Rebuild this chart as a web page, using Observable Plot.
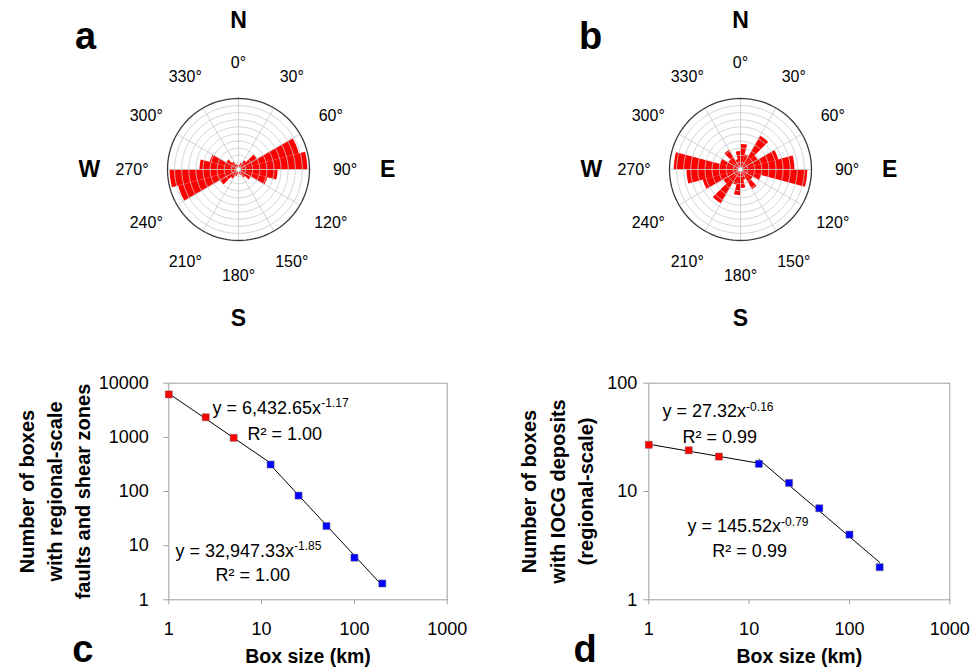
<!DOCTYPE html>
<html>
<head>
<meta charset="utf-8">
<script src="https://cdn.jsdelivr.net/npm/d3@7"></script>
<script src="https://cdn.jsdelivr.net/npm/@observablehq/plot@0.6"></script>
<style>
  body { margin: 0; background: #fff; }
  #fig { position: relative; width: 974px; height: 669px; overflow: hidden; background: #fff; }
  .panel { position: absolute; }
</style>
</head>
<body>
<div id="fig"></div>
<script>
// ---------- data ----------
// rose diagrams: 15° bins (axial data, mirrored through 180°), length in grid rings (10 rings = outer circle)
const binStart = [0, 15, 30, 45, 60, 75, 90, 105, 120, 135, 150, 165];
const faultRose = [0.7, 1.0, 1.5, 3.0, 8.8, 9.7, 5.5, 4.2, 2.0, 1.3, 0.8, 0.6];
const iocgRose  = [3.6, 2.2, 5.5, 2.8, 5.5, 7.6, 9.4, 3.0, 2.0, 3.2, 1.5, 2.6];
const ringCount = 10;
const degreeLabels = [0, 30, 60, 90, 120, 150, 180, 210, 240, 270, 300, 330];
const compassLetters = ["N", "E", "S", "W"];
const compassAngles = [0, 90, 180, 270];

// box-counting plots
const boxSize    = [1, 2.5, 5, 12.5, 25, 50, 100, 200];
const faultBoxes = [6200, 2350, 980, 315, 84, 23, 6, 2];
const iocgBoxes  = [27, 24, 21, 18, 12, 7, 4, 2];
const boxGroup   = ["small", "small", "small", "large", "large", "large", "large", "large"];
const xTicks = [1, 10, 100, 1000];
const faultYTicks = [1, 10, 100, 1000, 10000];
const iocgYTicks = [1, 10, 100];
const faultFits = [
  {a: 6432.65, b: -1.17, from: 1, to: 12.5, eq: "y = 6,432.65x^-1.17", r2: "R² = 1.00"},
  {a: 32947.33, b: -1.85, from: 12.5, to: 200, eq: "y = 32,947.33x^-1.85", r2: "R² = 1.00"}
];
const iocgFits = [
  {a: 27.32, b: -0.16, from: 1, to: 12.5, eq: "y = 27.32x^-0.16", r2: "R² = 0.99"},
  {a: 145.52, b: -0.79, from: 12.5, to: 200, eq: "y = 145.52x^-0.79", r2: "R² = 0.99"}
];
const faultTitle = "Number of boxes\nwith regional-scale\nfaults and shear zones";
const iocgTitle = "Number of boxes\nwith IOCG deposits\n(regional-scale)";
const xTitle = "Box size (km)";

// ---------- helpers ----------
const FONT = "'Liberation Sans', Arial, sans-serif";
const fig = document.getElementById("fig");
function place(node, left, top) {
  const d = document.createElement("div");
  d.className = "panel";
  d.style.left = left + "px";
  d.style.top = top + "px";
  d.appendChild(node);
  fig.appendChild(d);
}
function superscripts(svg) {
  svg.querySelectorAll("text").forEach(t => {
    if (t.children.length) return;
    const s = t.textContent;
    const i = s.indexOf("^");
    if (i < 0) return;
    t.textContent = s.slice(0, i);
    const sup = document.createElementNS("http://www.w3.org/2000/svg", "tspan");
    sup.setAttribute("font-size", "0.67em");
    sup.setAttribute("dy", "-0.55em");
    sup.textContent = s.slice(i + 1);
    t.appendChild(sup);
  });
  return svg;
}

// ---------- rose diagram ----------
const K = 7.1;          // px per ring
const RW = 440, RH = 340, RCY = 169;
const rad = Math.PI / 180;
const pt = (r, a) => ({x: r * Math.sin(a * rad), y: r * Math.cos(a * rad)});

function rose(values, letter, letterDx) {
  const r0 = 0.35;
  const petals = [];
  binStart.forEach((b, i) => {
    [0, 180].forEach(off => {
      const a0 = b + off, id = i + "-" + off, v = values[i];
      const pts = [pt(r0, a0)];
      for (let s = 0; s <= 6; s++) pts.push(pt(v, a0 + s * 2.5));
      pts.push(pt(r0, a0 + 15));
      pts.forEach(p => petals.push({...p, id}));
    });
  });
  const rings = [];
  for (let r = 1; r <= ringCount; r++)
    for (let a = 0; a <= 360; a += 3) rings.push({...pt(r, a), ring: r});
  const spokes = d3.range(0, 360, 30);
  return Plot.plot({
    width: RW, height: RH, margin: 0,
    x: {domain: [-RW / 2 / K, RW / 2 / K], axis: null},
    y: {domain: [-(RH - RCY) / K, RCY / K], axis: null},
    style: {fontFamily: FONT, background: "transparent", color: "#000"},
    marks: [
      Plot.line(petals, {x: "x", y: "y", z: "id", fill: "#ff0000", stroke: "none"}),
      Plot.line(rings.filter(d => d.ring < ringCount), {x: "x", y: "y", z: "ring", stroke: "#c9c9c9", strokeWidth: 0.8}),
      Plot.link(spokes, {
        x1: a => pt(r0, a).x, y1: a => pt(r0, a).y,
        x2: a => pt(ringCount, a).x, y2: a => pt(ringCount, a).y,
        stroke: "#c9c9c9", strokeWidth: 0.8
      }),
      Plot.line(rings.filter(d => d.ring === ringCount), {x: "x", y: "y", stroke: "#3a3a3a", strokeWidth: 1.3}),
      Plot.dot([{x: 0, y: 0}], {x: "x", y: "y", r: 2.4, fill: "white", stroke: "#b0b0b0", strokeWidth: 0.8}),
      Plot.text(degreeLabels, {
        x: d => pt(15, d).x, y: d => pt(15, d).y, text: d => d + "°",
        fontSize: 16, fill: "#000"
      }),
      Plot.text(compassLetters, {
        x: (d, i) => pt(21, compassAngles[i]).x, y: (d, i) => pt(21, compassAngles[i]).y,
        text: d => d, fontSize: 23, fontWeight: "bold", fill: "#000"
      }),
      Plot.text([letter], {
        frameAnchor: "top-left", dx: letterDx, dy: 48, text: d => d,
        textAnchor: "start", lineAnchor: "bottom", fontSize: 38, fontWeight: "bold", fill: "#000"
      })
    ]
  });
}

// ---------- log-log box-counting plot ----------
function loglog(o) {
  const pts = boxSize.map((x, i) => ({x, y: o.values[i], g: boxGroup[i]}));
  const trend = o.fits.flatMap((f, i) => [f.from, f.to].map(x => ({x, y: f.a * Math.pow(x, f.b), fit: i})));
  const ann = o.fits.flatMap((f, i) => [
    {text: f.eq, ...o.ann[i * 2]},
    {text: f.r2, ...o.ann[i * 2 + 1]}
  ]);
  const svg = Plot.plot({
    width: o.width, height: 309,
    marginLeft: o.marginLeft, marginRight: o.marginRight, marginTop: 22.7, marginBottom: 69.7,
    x: {type: "log", domain: [1, 1000]},
    y: {type: "log", domain: o.yDomain},
    style: {fontFamily: FONT, fontSize: "18px", background: "transparent", color: "#000"},
    marks: [
      Plot.frame({stroke: "#a0a0a0", strokeWidth: 1}),
      Plot.axisX(xTicks, {tickSize: 5, tickPadding: 17, tickFormat: d => String(d), stroke: "#a0a0a0", fill: "#000", fontSize: 18, label: null}),
      Plot.axisY(o.yTicks, {tickSize: 5, tickFormat: () => "", stroke: "#a0a0a0", label: null}),
      Plot.text(o.yTicks, {
        frameAnchor: "left", y: d => d, dx: o.yLabelDx, text: d => String(d),
        textAnchor: "end", fontSize: 18, fill: "#000"
      }),
      Plot.line(trend, {x: "x", y: "y", z: "fit", stroke: "#000", strokeWidth: 1}),
      Plot.dot(pts.filter(d => d.g === "small"), {x: "x", y: "y", symbol: "square", r: 4, fill: "#ff0000", stroke: "#6b6b6b", strokeWidth: 0.5}),
      Plot.dot(pts.filter(d => d.g === "large"), {x: "x", y: "y", symbol: "square", r: 4, fill: "#0000ff", stroke: "#6b6b6b", strokeWidth: 0.5}),
      Plot.text(ann, {x: "x", y: "y", text: "text", textAnchor: "start", lineAnchor: "bottom", fontSize: 18, fill: "#000"}),
      Plot.text([o.title], {
        frameAnchor: "left", dx: o.titleDx, rotate: -90, text: d => d,
        lineHeight: 1.42, fontSize: 20, fontWeight: "bold", textAnchor: "middle", lineAnchor: "middle", fill: "#000"
      }),
      Plot.text([xTitle], {
        frameAnchor: "bottom", dy: 62.7, text: d => d, lineAnchor: "bottom",
        fontSize: 19.5, fontWeight: "bold", fill: "#000"
      }),
      Plot.text([o.letter], {
        frameAnchor: "bottom-left", dx: o.letterDx, dy: 62.5, text: d => d,
        textAnchor: "start", lineAnchor: "bottom", fontSize: 38, fontWeight: "bold", fill: "#000"
      })
    ]
  });
  return superscripts(svg);
}

// ---------- assemble ----------
place(rose(faultRose, "a", 56.5), 237.5 - RW / 2, 0);
place(rose(iocgRose, "b", 58.5), 739.5 - RW / 2, 0);

place(loglog({
  values: faultBoxes, fits: faultFits, yDomain: [1, 10000], yTicks: faultYTicks,
  title: faultTitle, letter: "c", width: 480, marginLeft: 168.3, marginRight: 33.3,
  titleDx: -116, letterDx: -96.6, yLabelDx: -20,
  ann: [{x: 2.96, y: 2720}, {x: 7.05, y: 902}, {x: 1.18, y: 6.3}, {x: 3.19, y: 2.2}]
}), 0, 360);

place(loglog({
  values: iocgBoxes, fits: iocgFits, yDomain: [1, 100], yTicks: iocgYTicks,
  title: iocgTitle, letter: "d", width: 484, marginLeft: 158.3, marginRight: 24.7,
  titleDx: -93.3, letterDx: -75.3, yLabelDx: -11.5,
  ann: [{x: 1.37, y: 48.5}, {x: 2.17, y: 28.3}, {x: 2.43, y: 4.2}, {x: 4.3, y: 2.47}]
}), 490, 360);
</script>
</body>
</html>
